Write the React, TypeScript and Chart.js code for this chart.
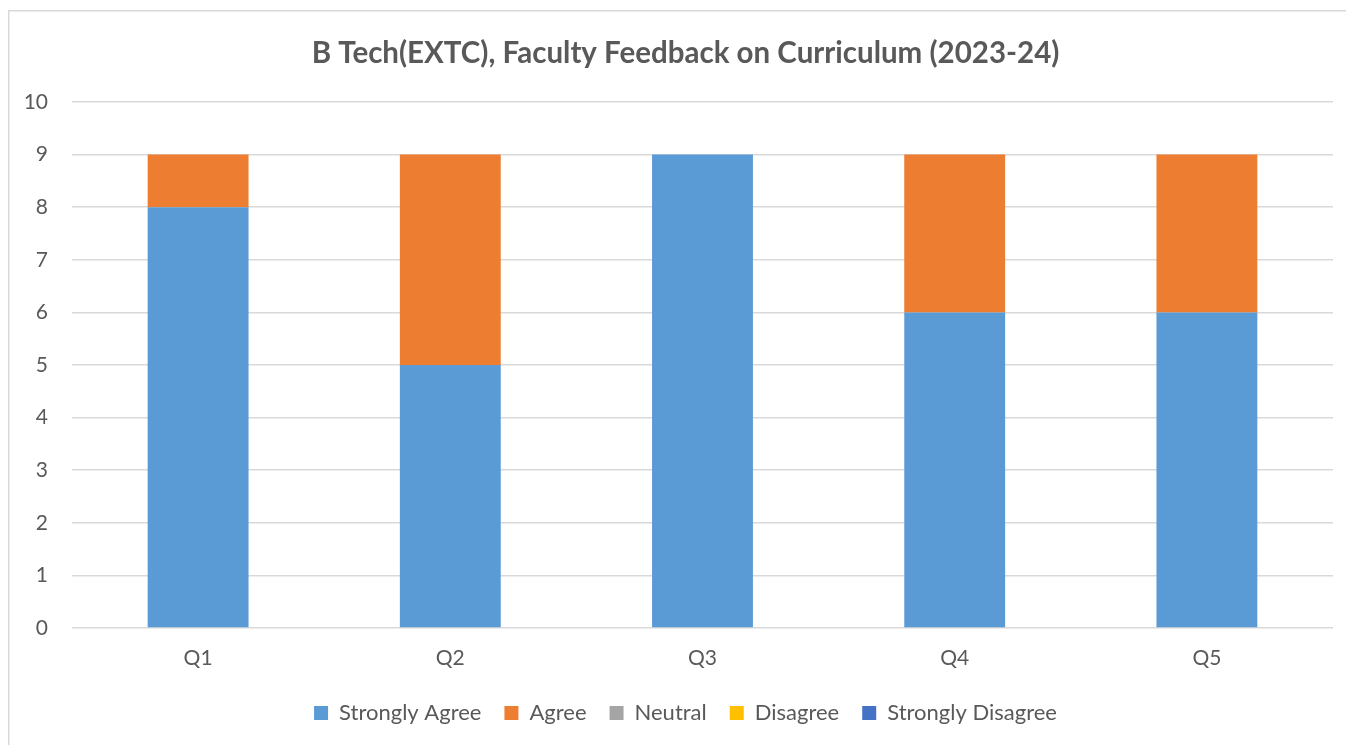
import React, { useEffect, useRef } from "react";
import { Chart, registerables } from "chart.js";

Chart.register(...registerables);

const categories = ["Q1", "Q2", "Q3", "Q4", "Q5"];
const seriesNames = ["Strongly Agree", "Agree", "Neutral", "Disagree", "Strongly Disagree"];
const stronglyAgree = [8, 5, 9, 6, 6];
const agree = [1, 4, 0, 3, 3];
const neutral = [0, 0, 0, 0, 0];
const disagree = [0, 0, 0, 0, 0];
const stronglyDisagree = [0, 0, 0, 0, 0];
const seriesColors = ["#5B9BD5", "#ED7D31", "#A5A5A5", "#FFC000", "#4472C4"];
const yTicks = [0, 1, 2, 3, 4, 5, 6, 7, 8, 9, 10];
const titleText = "B Tech(EXTC), Faculty Feedback on Curriculum (2023-24)";

const FONT = "Lato";
const TEXT = "#595959";

const borderPlugin = {
  id: "chartBorder",
  beforeDraw(chart: any) {
    const { ctx, width, height } = chart;
    ctx.save();
    ctx.fillStyle = "#ffffff";
    ctx.fillRect(0, 0, width, height);
    ctx.strokeStyle = "#d9d9d9";
    ctx.lineWidth = 1.5;
    ctx.strokeRect(0.75, 0.75, width - 1.5, height - 1.5);
    ctx.restore();
  },
};

export default function App() {
  const ref = useRef<HTMLCanvasElement | null>(null);

  useEffect(() => {
    if (!ref.current) return;
    const values = [stronglyAgree, agree, neutral, disagree, stronglyDisagree];
    const chart = new Chart(ref.current, {
      type: "bar",
      data: {
        labels: categories,
        datasets: seriesNames.map((name, i) => ({
          label: name,
          data: values[i],
          backgroundColor: seriesColors[i],
          borderWidth: 0,
          categoryPercentage: 1,
          barPercentage: 0.4,
          yAxisID: "y",
        })),
      },
      options: {
        animation: false,
        responsive: false,
        maintainAspectRatio: false,
        layout: { padding: { left: 0, right: 0, top: 0, bottom: 21 } },
        plugins: {
          title: {
            display: true,
            text: titleText,
            color: TEXT,
            font: { family: FONT, size: 29.5, weight: "bold" },
            padding: { top: 25.3, bottom: 31.3 },
          },
          legend: {
            position: "bottom",
            labels: {
              color: TEXT,
              font: { family: FONT, size: 22 },
              boxWidth: 14,
              boxHeight: 14,
              padding: 23,
            },
          },
          tooltip: { enabled: false },
        },
        scales: {
          x: {
            stacked: true,
            grid: { display: false },
            border: { display: false },
            ticks: { color: TEXT, font: { family: FONT, size: 21 }, padding: 10 },
            afterFit: (s: any) => {
              s.height = 51;
            },
          },
          y: {
            stacked: true,
            min: 0,
            max: 10,
            afterBuildTicks: (s: any) => {
              s.ticks = yTicks.map((v) => ({ value: v }));
            },
            grid: { color: "#d9d9d9", lineWidth: 1.5, drawTicks: false },
            border: { display: false },
            ticks: { color: TEXT, font: { family: FONT, size: 21 }, padding: 24 },
            afterFit: (s: any) => {
              s.width = 64;
            },
          },
          yRightSpace: {
            position: "right",
            display: true,
            min: 0,
            max: 10,
            grid: { display: false, drawTicks: false },
            border: { display: false },
            ticks: { display: false },
            afterFit: (s: any) => {
              s.width = 30;
            },
          },
        },
      },
      plugins: [borderPlugin],
    });
    return () => chart.destroy();
  }, []);

  return (
    <div style={{ position: "absolute", left: 0, top: 0, width: 1346, height: 745, overflow: "hidden" }}>
      <canvas ref={ref} width={1355} height={745} style={{ position: "absolute", left: 8, top: 10 }} />
    </div>
  );
}
